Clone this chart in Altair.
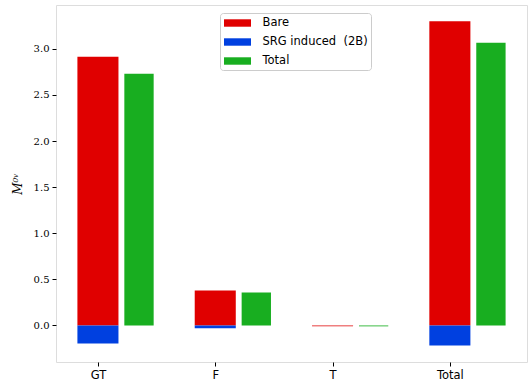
import altair as alt
import pandas as pd

categories = ["GT", "F", "T", "Total"]
bare = [2.915, 0.38, -0.009, 3.30]
srg_induced = [-0.195, -0.03, 0.0, -0.217]
total = [2.73, 0.357, -0.009, 3.066]

series_names = ["Bare", "SRG induced\u00a0 (2B)", "Total"]
series_colors = ["#e00000", "#0040e0", "#18ae20"]

rows = []
for i, c in enumerate(categories):
    rows.append({"cat": c, "idx": i, "series": series_names[0], "val": bare[i], "off": 0.0, "w": 0.35})
    rows.append({"cat": c, "idx": i, "series": series_names[1], "val": srg_induced[i], "off": 0.0, "w": 0.35})
    rows.append({"cat": c, "idx": i, "series": series_names[2], "val": total[i], "off": 0.35, "w": 0.25})
df = pd.DataFrame(rows)

label_expr = "[" + ",".join("'%s'" % c for c in categories) + "][datum.value]"

bars = alt.Chart(df).transform_calculate(
    x0="datum.idx + datum.off - datum.w/2",
    x1="datum.idx + datum.off + datum.w/2",
).mark_bar(clip=True).encode(
    x=alt.X("x0:Q", scale=alt.Scale(domain=[-0.3575, 3.6575], nice=False, zero=False),
            axis=alt.Axis(values=[0, 1, 2, 3], labelExpr=label_expr, title=None, grid=False,
                          tickSize=4, tickColor="#000", domain=False, labelFont="DejaVu Sans",
                          labelFontSize=11.5, labelColor="#000", labelPadding=3, labelFlush=False)),
    x2="x1:Q",
    y=alt.Y("val:Q", scale=alt.Scale(domain=[-0.396, 3.476], nice=False, zero=False),
            axis=alt.Axis(values=[0, 0.5, 1, 1.5, 2, 2.5, 3], format=".1f", title="M⁰ᵛ",
                          grid=False, tickSize=4, tickColor="#000", domain=False,
                          labelFont="DejaVu Serif", labelFontSize=10, labelColor="#000",
                          labelPadding=3, titleFont="DejaVu Serif", titleFontStyle="italic",
                          titleFontWeight="normal", titleFontSize=12, titleColor="#000",
                          titlePadding=9)),
    y2=alt.datum(0),
    color=alt.Color("series:N", scale=alt.Scale(domain=series_names, range=series_colors),
                    legend=alt.Legend(title=None, orient="none", legendX=164, legendY=8,
                                      symbolType="M-2,-0.55H2V0.55H-2Z", symbolSize=182,
                                      symbolStrokeWidth=0, symbolOffset=7.5,
                                      labelFont="DejaVu Sans",
                                      labelFontSize=11.5, labelColor="#000", labelOffset=18,
                                      rowPadding=6, padding=3, strokeColor="#cccccc",
                                      fillColor="white", cornerRadius=3, offset=0)),
)

chart = bars.properties(
    width=471, height=357,
    autosize=alt.AutoSizeParams(type="none"),
    padding={"left": 56, "top": 5, "right": 1, "bottom": 20},
).configure_view(stroke="#000", strokeWidth=1).configure(background="white")

chart.save("out.html", embed_options={"renderer": "svg", "actions": False})
